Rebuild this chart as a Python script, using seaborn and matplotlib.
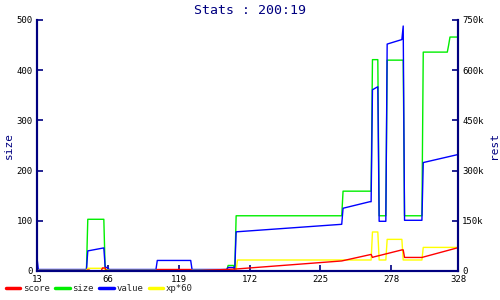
import matplotlib
matplotlib.use("Agg")
import matplotlib.pyplot as plt
import seaborn as sns
import pandas as pd
from matplotlib.lines import Line2D

# ---- data ----
title = "Stats : 200:19"
x_ticks = [13, 66, 119, 172, 225, 278, 328]
left_ticks = [0, 100, 200, 300, 400, 500]
right_ticks = [0, 150000, 300000, 450000, 600000, 750000]
right_labels = ["0", "150k", "300k", "450k", "600k", "750k"]

size_x = [13, 50, 51, 63, 64, 155, 156, 160, 161, 162, 241, 242, 263, 264, 268, 269,
          274, 275, 287, 288, 301, 302, 320, 321, 322, 328]
size_y = [2, 2, 103, 103, 2, 2, 11, 11, 2, 110, 110, 159, 159, 421, 421, 110,
          110, 420, 420, 110, 110, 436, 436, 450, 466, 466]

value_x = [13, 14, 50, 51, 63, 64, 66, 67, 70, 102, 103, 128, 129, 155, 156, 160, 161,
           162, 241, 242, 262, 263, 264, 268, 269, 274, 275, 286, 287, 288, 301, 302, 328]
value_y = [39000, 4500, 4500, 60000, 69000, 12000, 9000, 4500, 4500, 4500, 31500, 31500,
           4500, 4500, 10500, 10500, 4500, 117000, 139500, 187500, 207000, 207000,
           541500, 550500, 148500, 148500, 678000, 691500, 732000, 151500, 151500,
           324000, 348000]

xp_x = [13, 50, 51, 63, 64, 162, 163, 263, 264, 268, 269, 274, 275, 286, 287, 301, 302, 328]
xp_y = [2100, 2100, 8100, 8100, 2100, 2100, 32850, 32850, 116550, 116550, 32850,
        32850, 94500, 94500, 32850, 32850, 70500, 70500]

score_x = [13, 50, 51, 52, 53, 61, 62, 64, 65, 102, 103, 128, 129, 162, 241, 263, 264,
           265, 286, 287, 288, 301, 328]
score_y = [0, 0, 3000, 3000, 0, 0, 9000, 9000, 0, 0, 4500, 4500, 0, 6000, 30000, 49500,
           40500, 42000, 63000, 63000, 40500, 40500, 69600]

NAVY = "#000080"
COLORS = {"score": "#ff0000", "size": "#00ee00", "value": "#0000ff", "xp*60": "#ffff00"}

sns.set_theme(style="white")
plt.rcParams["font.family"] = ["DejaVu Sans Mono", "DejaVu Sans"]

fig = plt.figure(figsize=(5, 3), dpi=100)
ax = fig.add_axes([0.074, 0.0967, 0.842, 0.8367])
ax2 = ax.twinx()

lw = 1.0
sns.lineplot(x=size_x, y=size_y, ax=ax, color=COLORS["size"], lw=lw, estimator=None, sort=False)
sns.lineplot(x=value_x, y=value_y, ax=ax2, color=COLORS["value"], lw=lw, estimator=None, sort=False)
sns.lineplot(x=xp_x, y=xp_y, ax=ax2, color=COLORS["xp*60"], lw=lw, estimator=None, sort=False)
sns.lineplot(x=score_x, y=score_y, ax=ax2, color=COLORS["score"], lw=lw, estimator=None, sort=False)

ax.set_xlim(13, 328)
ax.set_ylim(0, 500)
ax2.set_ylim(0, 750000)
ax.set_xticks(x_ticks)
ax.set_xticklabels([str(t) for t in x_ticks])
ax.set_yticks(left_ticks)
ax.set_yticklabels([str(t) for t in left_ticks])
ax2.set_yticks(right_ticks)
ax2.set_yticklabels(right_labels)

for a in (ax, ax2):
    for s in a.spines.values():
        s.set_color(NAVY)
        s.set_linewidth(1.5)
    a.spines["top"].set_visible(False)
    a.tick_params(direction="in", length=4, width=1.2, color=NAVY,
                  labelsize=6.5, labelcolor="black", pad=3)
    a.grid(False)
ax.tick_params(axis="y", left=True, right=False)
ax.tick_params(axis="x", bottom=True)
ax2.tick_params(axis="y", right=True, left=False)

ax.set_ylabel("size", color=NAVY, fontsize=8, labelpad=2)
ax2.set_ylabel("rest", color=NAVY, fontsize=8, labelpad=4)
ax.set_xlabel("")
fig.suptitle(title, color=NAVY, fontsize=9.5, y=0.985)

handles = [Line2D([], [], color=COLORS[k], lw=2.5) for k in ["score", "size", "value", "xp*60"]]
fig.legend(handles, ["score", "size", "value", "xp*60"], loc="lower left",
           bbox_to_anchor=(-0.005, -0.005), ncol=4, frameon=False, fontsize=6.5,
           handlelength=1.6, handletextpad=0.3, columnspacing=0.6)

fig.savefig("out.png", dpi=100)
